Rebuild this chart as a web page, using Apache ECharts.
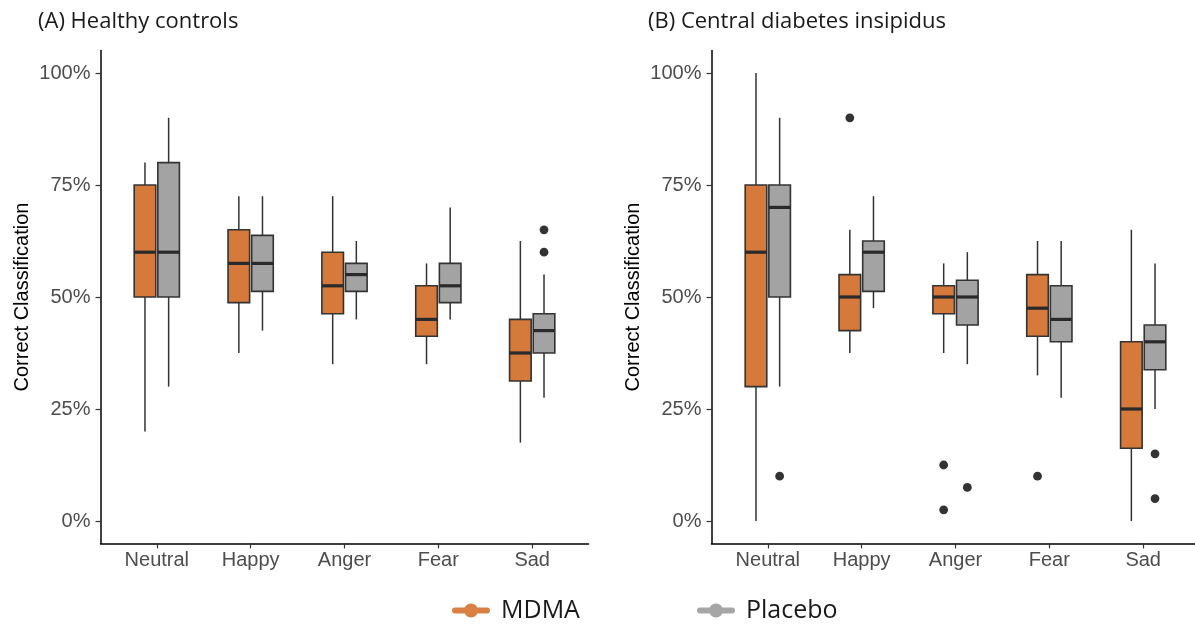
<!DOCTYPE html>
<html>
<head>
<meta charset="utf-8">
<script src="https://cdn.jsdelivr.net/npm/echarts@6/dist/echarts.min.js"></script>
<style>
  html, body { margin: 0; padding: 0; background: #fff; }
  #chart { width: 1195px; height: 625px; }
</style>
</head>
<body>
<div id="chart"></div>
<script>
// Emotion categories on the x axis
const categories = ['Neutral', 'Happy', 'Anger', 'Fear', 'Sad'];
const yTicks = [0, 25, 50, 75, 100];

// (A) Healthy controls — box statistics in percent
const hcMdmaLow  = [20, 37.5, 35, 35, 17.5];
const hcMdmaQ1   = [50, 48.75, 46.25, 41.25, 31.25];
const hcMdmaMed  = [60, 57.5, 52.5, 45, 37.5];
const hcMdmaQ3   = [75, 65, 60, 52.5, 45];
const hcMdmaHigh = [80, 72.5, 72.5, 57.5, 62.5];
const hcMdmaOut  = [];

const hcPlacLow  = [30, 42.5, 45, 45, 27.5];
const hcPlacQ1   = [50, 51.25, 51.25, 48.75, 37.5];
const hcPlacMed  = [60, 57.5, 55, 52.5, 42.5];
const hcPlacQ3   = [80, 63.75, 57.5, 57.5, 46.25];
const hcPlacHigh = [90, 72.5, 62.5, 70, 55];
const hcPlacOut  = [[4, 65], [4, 60]];

// (B) Central diabetes insipidus — box statistics in percent
const cdiMdmaLow  = [0, 37.5, 37.5, 32.5, 0];
const cdiMdmaQ1   = [30, 42.5, 46.25, 41.25, 16.25];
const cdiMdmaMed  = [60, 50, 50, 47.5, 25];
const cdiMdmaQ3   = [75, 55, 52.5, 55, 40];
const cdiMdmaHigh = [100, 65, 57.5, 62.5, 65];
const cdiMdmaOut  = [[1, 90], [2, 12.5], [2, 2.5], [3, 10]];

const cdiPlacLow  = [30, 47.5, 35, 27.5, 25];
const cdiPlacQ1   = [50, 51.25, 43.75, 40, 33.75];
const cdiPlacMed  = [70, 60, 50, 45, 40];
const cdiPlacQ3   = [75, 62.5, 53.75, 52.5, 43.75];
const cdiPlacHigh = [90, 72.5, 60, 62.5, 57.5];
const cdiPlacOut  = [[0, 10], [2, 7.5], [4, 15], [4, 5]];

const COLOR_MDMA = '#D67A3B';
const COLOR_PLAC = '#A3A3A3';
const OUTLINE = '#333333';
const AXIS_FONT = '"Liberation Sans", Arial, sans-serif';
const TEXT_FONT = '"Open Sans", sans-serif';
const BOX_W = 0.23;     // box width as a fraction of one category step
const DODGE = 0.126;    // horizontal shift of each group from the category centre

function rows(low, q1, med, q3, high) {
  return categories.map((c, i) => [i, low[i], q1[i], med[i], q3[i], high[i]]);
}

function boxRenderer(shift, fill) {
  return function (params, api) {
    const i = api.value(0);
    const step = api.size([1, 0])[0];
    const cx = api.coord([i, 0])[0] + shift * step;
    const w = BOX_W * step;
    const y = k => api.coord([i, api.value(k)])[1];
    const yLow = y(1), yQ1 = y(2), yMed = y(3), yQ3 = y(4), yHigh = y(5);
    const lineStyle = { stroke: OUTLINE, lineWidth: 1.5 };
    return {
      type: 'group',
      children: [
        { type: 'line', shape: { x1: cx, y1: yHigh, x2: cx, y2: yQ3 }, style: lineStyle },
        { type: 'line', shape: { x1: cx, y1: yQ1, x2: cx, y2: yLow }, style: lineStyle },
        { type: 'rect', shape: { x: cx - w / 2, y: yQ3, width: w, height: yQ1 - yQ3 },
          style: { fill: fill, stroke: OUTLINE, lineWidth: 1.6 } },
        { type: 'line', shape: { x1: cx - w / 2, y1: yMed, x2: cx + w / 2, y2: yMed },
          style: { stroke: '#2a2a2a', lineWidth: 3.2 } }
      ]
    };
  };
}

function outlierRenderer(shift) {
  return function (params, api) {
    const step = api.size([1, 0])[0];
    const p = api.coord([api.value(0), api.value(1)]);
    return { type: 'circle', shape: { cx: p[0] + shift * step, cy: p[1], r: 4.4 },
             style: { fill: '#333333' } };
  };
}

function panelAxes(gridIndex) {
  const x = {
    type: 'value', gridIndex: gridIndex, min: -0.6, max: 4.6,
    axisLine: { show: true, onZero: false, lineStyle: { color: '#000', width: 1.5 } },
    axisTick: { show: true, customValues: [0, 1, 2, 3, 4], length: 5, lineStyle: { color: '#333', width: 1.2 } },
    axisLabel: {
      customValues: [0, 1, 2, 3, 4], formatter: v => categories[Math.round(v)],
      color: '#4d4d4d', fontSize: 20, fontFamily: AXIS_FONT, margin: 7
    },
    splitLine: { show: false }
  };
  const y = {
    type: 'value', gridIndex: gridIndex, min: -5, max: 105,
    name: 'Correct Classification', nameLocation: 'middle', nameRotate: 90, nameGap: 68,
    nameTextStyle: { color: '#000', fontSize: 20, fontFamily: AXIS_FONT },
    axisLine: { show: true, onZero: false, lineStyle: { color: '#000', width: 1.5 } },
    axisTick: { show: true, customValues: yTicks, length: 5, lineStyle: { color: '#333', width: 1.2 } },
    axisLabel: {
      customValues: yTicks, formatter: v => v + '%',
      color: '#4d4d4d', fontSize: 20, fontFamily: AXIS_FONT, margin: 10
    },
    splitLine: { show: false }
  };
  return [x, y];
}

function boxSeries(name, gridIndex, data, shift, fill) {
  return {
    type: 'custom', name: name, xAxisIndex: gridIndex, yAxisIndex: gridIndex,
    color: fill, renderItem: boxRenderer(shift, fill), data: data,
    encode: { x: 0, y: [1, 2, 3, 4, 5] }, silent: true
  };
}

function outlierSeries(name, gridIndex, data, shift) {
  return {
    type: 'custom', name: name, xAxisIndex: gridIndex, yAxisIndex: gridIndex,
    renderItem: outlierRenderer(shift), data: data,
    encode: { x: 0, y: 1 }, silent: true
  };
}

const axA = panelAxes(0);
const axB = panelAxes(1);

// Legend glyph: a thick line with a dot in the middle
const legendIcon = 'path://M3,4 L35,4 A3,3 0 0 1 35,10 L3,10 A3,3 0 0 1 3,4 Z M12,7 A7,7 0 1 1 26,7 A7,7 0 1 1 12,7 Z';
const legendText = { color: '#1a1a1a', fontSize: 25, fontFamily: TEXT_FONT, padding: [0, 0, 0, 6] };
const titleText = { fontFamily: TEXT_FONT, fontSize: 22, fontWeight: 'normal', color: '#1a1a1a' };

const option = {
  backgroundColor: '#ffffff',
  animation: false,
  title: [
    { text: '(A) Healthy controls', left: 33, top: 6, textStyle: titleText },
    { text: '(B) Central diabetes insipidus', left: 643, top: 6, textStyle: titleText }
  ],
  legend: [
    { data: [{ name: 'MDMA', icon: legendIcon, itemStyle: { color: '#D98143' } }],
      left: 447, top: 593, itemWidth: 38, itemHeight: 14, textStyle: legendText,
      selectedMode: false },
    { data: [{ name: 'Placebo', icon: legendIcon, itemStyle: { color: '#A6A6A6' } }],
      left: 692, top: 593, itemWidth: 38, itemHeight: 14, textStyle: legendText,
      selectedMode: false }
  ],
  grid: [
    { left: 100.5, top: 50.6, width: 488, height: 492.8, outerBoundsMode: 'none' },
    { left: 711.5, top: 50.6, width: 488, height: 492.8, outerBoundsMode: 'none' }
  ],
  xAxis: [axA[0], axB[0]],
  yAxis: [axA[1], axB[1]],
  series: [
    boxSeries('MDMA', 0, rows(hcMdmaLow, hcMdmaQ1, hcMdmaMed, hcMdmaQ3, hcMdmaHigh), -DODGE, COLOR_MDMA),
    boxSeries('Placebo', 0, rows(hcPlacLow, hcPlacQ1, hcPlacMed, hcPlacQ3, hcPlacHigh), DODGE, COLOR_PLAC),
    outlierSeries('MDMA', 0, hcMdmaOut, -DODGE),
    outlierSeries('Placebo', 0, hcPlacOut, DODGE),
    boxSeries('MDMA', 1, rows(cdiMdmaLow, cdiMdmaQ1, cdiMdmaMed, cdiMdmaQ3, cdiMdmaHigh), -DODGE, COLOR_MDMA),
    boxSeries('Placebo', 1, rows(cdiPlacLow, cdiPlacQ1, cdiPlacMed, cdiPlacQ3, cdiPlacHigh), DODGE, COLOR_PLAC),
    outlierSeries('MDMA', 1, cdiMdmaOut, -DODGE),
    outlierSeries('Placebo', 1, cdiPlacOut, DODGE)
  ]
};

const chart = echarts.init(document.getElementById('chart'), null, { renderer: 'canvas' });
chart.setOption(option);
</script>
</body>
</html>
